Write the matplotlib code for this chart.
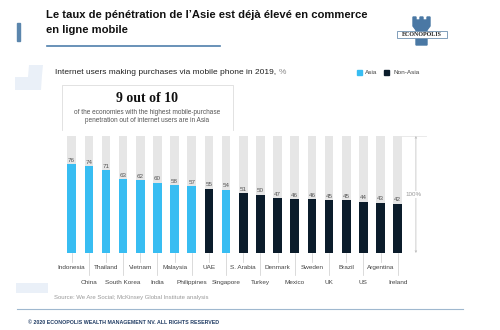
import matplotlib.pyplot as plt
from matplotlib.patches import Rectangle, Polygon

countries = ["Indonesia", "China", "Thailand", "South Korea", "Vietnam", "India",
             "Malaysia", "Philippines", "UAE", "Singapore", "S. Arabia", "Turkey",
             "Denmark", "Mexico", "Sweden", "UK", "Brazil", "US", "Argentina", "Ireland"]
values = [76, 74, 71, 63, 62, 60, 58, 57, 55, 54, 51, 50, 47, 46, 46, 45, 45, 44, 43, 42]
is_asia = [1, 1, 1, 1, 1, 1, 1, 1, 0, 1, 0, 0, 0, 0, 0, 0, 0, 0, 0, 0]

ASIA = "#38bdf2"
NONASIA = "#0b1c2b"
GREY = "#e6e6e6"
SANS = ["Liberation Sans", "DejaVu Sans"]

fig = plt.figure(figsize=(5, 3.3), dpi=100)

# decoration layer in pixel coords
deco = fig.add_axes([0, 0, 1, 1])
deco.set_xlim(0, 500)
deco.set_ylim(330, 0)
deco.axis("off")

deco.add_patch(Rectangle((17, 23), 3, 18, color="#5b86ad"))
deco.plot([47, 220], [46, 46], color="#4f7fab", lw=1.2)
deco.text(46, 15, "Le taux de pénétration de l’Asie est déjà élevé en commerce",
          fontsize=8.1, fontweight="bold", family=SANS, va="center", color="#111")
deco.text(46, 30, "en ligne mobile", fontsize=8.1, fontweight="bold", family=SANS,
          va="center", color="#111")

# logo
deco.add_patch(Polygon([(413, 17), (416, 17), (416, 20), (420, 20), (420, 17), (423, 17),
                        (423, 20), (427, 20), (427, 17), (430, 17), (430, 26), (427, 30),
                        (427, 45), (416, 45), (416, 30), (413, 26)], color="#4a78a4"))
deco.add_patch(Rectangle((397, 31), 50, 7, facecolor="white", edgecolor="#6d8fb0", lw=0.6))
deco.text(422, 34.7, "ECONOPOLIS", fontsize=4.3, family=["Liberation Serif"],
          fontweight="bold", ha="center", va="center", color="#222")

# light blue shapes
deco.add_patch(Polygon([(29, 65), (43, 65), (42, 75), (41, 90), (15, 90), (15, 77),
                        (28, 77)], color="#eaf0f8", lw=0))
deco.add_patch(Rectangle((16, 283), 32, 10, color="#eaf0f8", lw=0))

sub = deco.text(55, 72, "Internet users making purchases via mobile phone in 2019, ",
                fontsize=6.0, family=SANS, va="center", color="#222")
fig.canvas.draw()
deco.annotate("%", xy=(1, 0.5), xycoords=sub, va="center", ha="left",
              fontsize=6.0, family=SANS, color="#888")

# legend
deco.add_patch(Rectangle((357, 70), 5, 5, color=ASIA))
deco.text(365, 72.7, "Asia", fontsize=4.6, family=SANS, va="center", color="#444")
deco.add_patch(Rectangle((384, 70), 5, 5, color=NONASIA))
deco.text(393, 72.7, "Non-Asia", fontsize=4.6, family=SANS, va="center", color="#444")

# callout box
deco.plot([62, 62, 233, 233], [130, 85, 85, 130], color="#dddddd", lw=0.6)
deco.text(147.5, 98, "9 out of 10", fontsize=10, family=["Liberation Serif"],
          fontweight="bold", ha="center", va="center", color="#111")
deco.text(147.5, 112, "of the economies with the highest mobile-purchase",
          fontsize=4.7, family=SANS, ha="center", va="center", color="#555")
deco.text(147.5, 120, "penetration out of internet users are in Asia",
          fontsize=4.7, family=SANS, ha="center", va="center", color="#555")

deco.text(54, 298, "Source: We Are Social; McKinsey Global Institute analysis",
          fontsize=4.3, family=SANS, va="center", color="#999")
deco.plot([17, 463], [309, 309], color="#9fb8cf", lw=0.8)
deco.text(28, 322, "© 2020 ECONOPOLIS WEALTH MANAGEMENT NV. ALL RIGHTS RESERVED",
          fontsize=3.8, family=SANS, va="center", color="#1f3b63", fontweight="bold")

# bar chart
ax = fig.add_axes([54.5 / 500, 77 / 330, (428.6 - 54.5) / 500, 117 / 330])
ax.set_xlim(-1, 20.8)
ax.set_ylim(0, 100)
ax.axis("off")
x = range(len(countries))
colors = [ASIA if a else NONASIA for a in is_asia]
ax.bar(x, [100] * len(values), width=0.5, color=GREY)
ax.bar(x, values, width=0.5, color=colors)

for i, (c, v) in enumerate(zip(countries, values)):
    ax.text(i, v + 1.2, str(v), fontsize=4.5, family=SANS, ha="center", va="bottom",
            color="#555")
    if i % 2 == 0:
        ax.plot([i, i], [0, -0.077], transform=ax.get_xaxis_transform(),
                color="#cccccc", lw=0.5, clip_on=False)
        ax.text(i, -0.12, c, fontsize=4.6, family=SANS, ha="center", va="center",
                color="#444", transform=ax.get_xaxis_transform())
    else:
        ax.plot([i, i], [0, -0.188], transform=ax.get_xaxis_transform(),
                color="#cccccc", lw=0.5, clip_on=False)
        ax.text(i, -0.248, c, fontsize=4.6, family=SANS, ha="center", va="center",
                color="#444", transform=ax.get_xaxis_transform())

# 100% scale marker
ax.plot([19.25, 20.65], [100, 100], color="#e6e6e6", lw=0.6)
ax.plot([19.25, 20.65], [0, 0], color="#dddddd", lw=0.6)
ax.annotate("", xy=(20.06, 100), xytext=(20.06, 0),
            arrowprops=dict(arrowstyle="<->", color="#bbbbbb", lw=0.5,
                            mutation_scale=3, shrinkA=0, shrinkB=0))
ax.text(19.9, 50, "100%", fontsize=4.5, family=SANS, ha="center", va="center",
        color="#999", bbox=dict(facecolor="white", edgecolor="none", pad=0.5))

fig.savefig("out.png", dpi=100)
